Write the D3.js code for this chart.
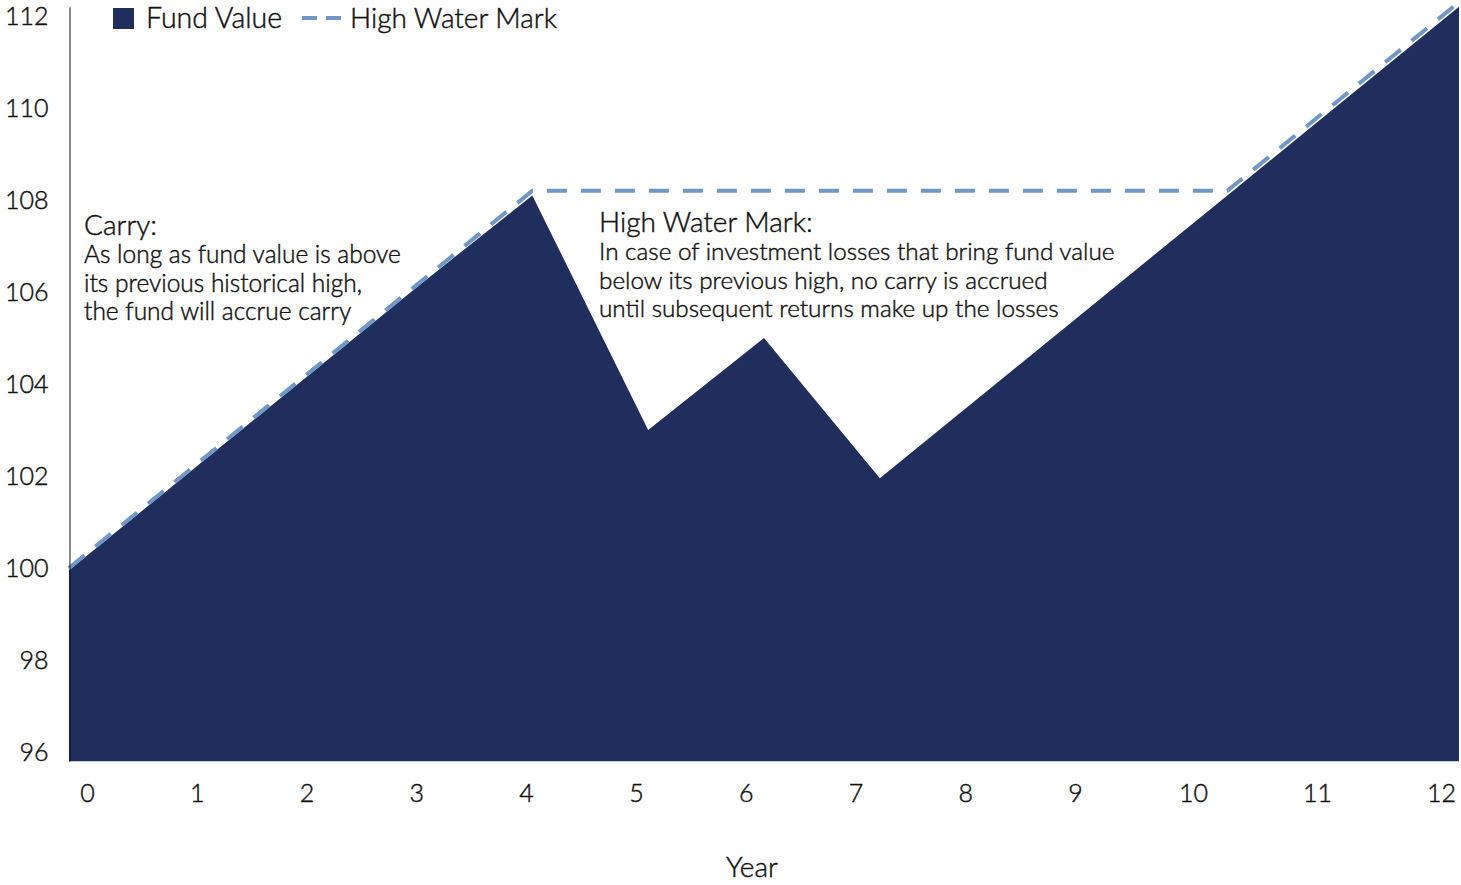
<!DOCTYPE html>
<html>
<head>
<meta charset="utf-8">
<script src="https://cdn.jsdelivr.net/npm/d3@7"></script>
<style>
  body { margin: 0; background: #fff; }
  svg text { font-family: Lato, "Open Sans", sans-serif; font-weight: 300; fill: #111; stroke: #111; stroke-width: 0.45px; }
</style>
</head>
<body>
<div id="chart"></div>
<script>
// data
var years = [0, 1, 2, 3, 4, 5, 6, 7, 8, 9, 10, 11, 12];
var fundValue = [99.95, 102.0, 104.05, 106.1, 108.1, 103.0, 105.0, 101.95, 104.0, 106.05, 108.1, 110.15, 112.2];
var highWaterMark = [100.0, 102.05, 104.1, 106.15, 108.2, 108.2, 108.2, 108.2, 108.2, 108.2, 108.2, 110.25, 112.3];
var yTicks = [96, 98, 100, 102, 104, 106, 108, 110, 112];
var xTickLabels = ["0", "1", "2", "3", "4", "5", "6", "7", "8", "9", "10", "11", "12"];
var seriesNames = ["Fund Value", "High Water Mark"];
var carryNote = ["Carry:", "As long as fund value is above", "its  previous historical high,", "the fund will accrue carry"];
var hwmNote = ["High Water Mark:", "In case of investment losses that bring fund value", "below its previous high, no carry is accrued", "until subsequent returns make up the losses"];

// settings
var W = 1461, H = 885;
var left = 69, right = 1459;
var navy = "#1f2e5c", steel = "#6f97c8";

var svg = d3.select("#chart")
    .append("svg")
    .attr("width", W)
    .attr("height", H);

var x = d3.scaleLinear()
    .domain([0, 12])
    .range([left, right]);

var y = d3.scaleLinear()
    .domain([95.8, 112.2])
    .range([761.2, 6.8]);

// tick labels sit a little off the data positions in the original
var xLabel = d3.scaleLinear()
    .domain([0, 9, 10, 12])
    .range([left + 18, left + 1006, left + 1124, right - 18]);

var rows = years.map(function (d, i) {
    return { year: d, fund: fundValue[i], hwm: highWaterMark[i] };
});

// fund value area
var area = d3.area()
    .x(function (d) { return x(d.year); })
    .y0(y(95.8))
    .y1(function (d) { return y(d.fund); });

svg.append("path")
    .datum(rows)
    .attr("d", area)
    .attr("fill", navy);

// high water mark
var line = d3.line()
    .x(function (d) { return x(d.year); })
    .y(function (d) { return y(d.hwm); });

svg.append("path")
    .datum(rows)
    .attr("d", line)
    .attr("fill", "none")
    .attr("stroke", steel)
    .attr("stroke-width", 4)
    .attr("stroke-dasharray", "20,14");

// y axis
var yAxis = svg.append("g")
    .attr("transform", "translate(" + (left + 0.5) + ",0)")
    .call(d3.axisLeft(y).tickValues(yTicks).tickSize(0).tickSizeOuter(0).tickPadding(21));
yAxis.select(".domain").attr("stroke", "#111");
yAxis.selectAll("text").style("font-size", "25px");

// x axis
var xAxis = svg.append("g")
    .attr("transform", "translate(0,761)")
    .call(d3.axisBottom(xLabel)
        .tickValues(years)
        .tickFormat(function (d, i) { return xTickLabels[i]; })
        .tickSize(0)
        .tickPadding(23));
xAxis.select(".domain").remove();
xAxis.selectAll("text").style("font-size", "25px");

svg.append("text")
    .attr("x", 752)
    .attr("y", 877)
    .attr("text-anchor", "middle")
    .style("font-size", "28px")
    .text("Year");

// legend
var legend = svg.append("g");
legend.append("rect")
    .attr("x", 113).attr("y", 8)
    .attr("width", 21).attr("height", 21)
    .attr("fill", navy);
legend.append("text")
    .attr("x", 146).attr("y", 28)
    .style("font-size", "28.5px")
    .text(seriesNames[0]);
legend.append("line")
    .attr("x1", 302).attr("x2", 342)
    .attr("y1", 18).attr("y2", 18)
    .attr("stroke", steel)
    .attr("stroke-width", 4)
    .attr("stroke-dasharray", "15,9");
legend.append("text")
    .attr("x", 350).attr("y", 28)
    .style("font-size", "28px")
    .text(seriesNames[1]);

// notes
function note(lines, tx, ty, size) {
    var t = svg.append("text")
        .attr("transform", "translate(" + tx + "," + ty + ")");
    t.selectAll("tspan")
        .data(lines)
        .enter()
        .append("tspan")
        .attr("x", 0)
        .attr("y", function (d, i) { return i == 0 ? 0 : 28 + (i - 1) * 28.5; })
        .style("font-size", function (d, i) { return i == 0 ? "28px" : size; })
        .text(function (d) { return d; });
}
note(carryNote, 84, 235, "24.5px");
note(hwmNote, 599, 232, "24.3px");
</script>
</body>
</html>
